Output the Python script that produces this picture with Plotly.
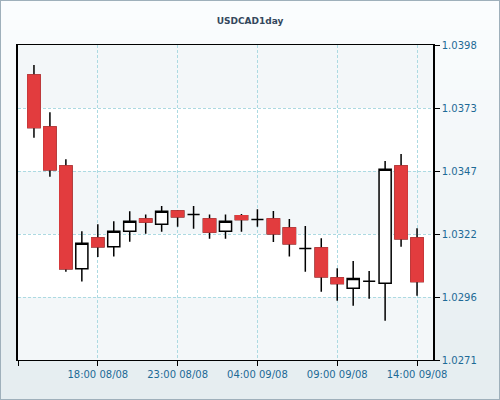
import plotly.graph_objects as go

# hourly USD/CAD candles
times = [
    "2013-08-08 14:00", "2013-08-08 15:00", "2013-08-08 16:00", "2013-08-08 17:00",
    "2013-08-08 18:00", "2013-08-08 19:00", "2013-08-08 20:00", "2013-08-08 21:00",
    "2013-08-08 22:00", "2013-08-08 23:00", "2013-08-09 00:00", "2013-08-09 01:00",
    "2013-08-09 02:00", "2013-08-09 03:00", "2013-08-09 04:00", "2013-08-09 05:00",
    "2013-08-09 06:00", "2013-08-09 07:00", "2013-08-09 08:00", "2013-08-09 09:00",
    "2013-08-09 10:00", "2013-08-09 11:00", "2013-08-09 12:00", "2013-08-09 13:00",
    "2013-08-09 14:00",
]
opens = [
    1.03859, 1.03649, 1.03492, 1.03078, 1.03202, 1.03167, 1.03229, 1.03278,
    1.03257, 1.03311, 1.03297, 1.03278, 1.03229, 1.03292, 1.03276, 1.03278,
    1.03242, 1.03160, 1.03162, 1.03041, 1.02999, 1.03027, 1.03019, 1.03492,
    1.03202,
]
highs = [
    1.03899, 1.03709, 1.03519, 1.03229, 1.03257, 1.03269, 1.03310, 1.03297,
    1.03331, 1.03315, 1.03331, 1.03297, 1.03297, 1.03299, 1.03318, 1.03311,
    1.03278, 1.03250, 1.03201, 1.03080, 1.03109, 1.03069, 1.03512, 1.03541,
    1.03241,
]
lows = [
    1.03606, 1.03449, 1.03066, 1.03026, 1.03125, 1.03127, 1.03187, 1.03219,
    1.03227, 1.03247, 1.03239, 1.03199, 1.03199, 1.03227, 1.03247, 1.03186,
    1.03127, 1.03066, 1.02985, 1.02949, 1.02929, 1.02957, 1.02868, 1.03167,
    1.02969,
]
closes = [
    1.03647, 1.03477, 1.03078, 1.03181, 1.03167, 1.03229, 1.03269, 1.03266,
    1.03310, 1.03288, 1.03297, 1.03226, 1.03269, 1.03276, 1.03276, 1.03219,
    1.03179, 1.03160, 1.03046, 1.03018, 1.03039, 1.03027, 1.03479, 1.03199,
    1.03026,
]

price_ticks = [1.0271, 1.02964, 1.03218, 1.03472, 1.03726, 1.0398]
price_labels = ["1.0271", "1.0296", "1.0322", "1.0347", "1.0373", "1.0398"]
time_ticks = [
    "2013-08-08 13:00", "2013-08-08 18:00", "2013-08-08 23:00",
    "2013-08-09 04:00", "2013-08-09 09:00", "2013-08-09 14:00",
]
time_labels = ["", "18:00 08/08", "23:00 08/08", "04:00 09/08", "09:00 09/08", "14:00 09/08"]
time_range = ["2013-08-08 13:00", "2013-08-09 15:00"]

RED = "#e23c3e"
LW = 1.5
GRID = "#acdae2"

fig = go.Figure()

# full candles: black wicks and outlines
fig.add_trace(go.Candlestick(
    x=times, open=opens, high=highs, low=lows, close=closes,
    increasing=dict(line=dict(color="black", width=LW), fillcolor="white"),
    decreasing=dict(line=dict(color="black", width=LW), fillcolor=RED),
    whiskerwidth=0, hoverinfo="skip", showlegend=False,
))

# red bodies drawn again on top so falling candles have no black outline
down = [i for i in range(len(times)) if closes[i] < opens[i]]
fig.add_trace(go.Candlestick(
    x=[times[i] for i in down],
    open=[opens[i] for i in down], high=[opens[i] for i in down],
    low=[closes[i] for i in down], close=[closes[i] for i in down],
    increasing=dict(line=dict(color=RED, width=LW), fillcolor=RED),
    decreasing=dict(line=dict(color=RED, width=LW), fillcolor=RED),
    whiskerwidth=0, hoverinfo="skip", showlegend=False,
))

ML, MR, MT, MB = 18, 67, 45, 40
PW, PH = 500 - ML - MR, 400 - MT - MB

shapes = []
# soft vertical gradient behind everything
top_rgb, bot_rgb = (251, 253, 254), (229, 237, 240)
n = 40
y0p, y1p = -MB / PH, 1 + MT / PH
for k in range(n):
    t = k / (n - 1)
    c = tuple(round(bot_rgb[j] + (top_rgb[j] - bot_rgb[j]) * t) for j in range(3))
    shapes.append(dict(
        type="rect", xref="paper", yref="paper", layer="below",
        x0=-ML / PW, x1=1 + MR / PW,
        y0=y0p + (y1p - y0p) * k / n, y1=y0p + (y1p - y0p) * (k + 1) / n + 0.002,
        fillcolor="rgb(%d,%d,%d)" % c, line=dict(width=0),
    ))
# white plot area, then alternating horizontal bands
shapes.append(dict(
    type="rect", xref="paper", yref="paper", layer="below",
    x0=0, x1=1, y0=0, y1=1, fillcolor="white", line=dict(width=0),
))
lo, hi = price_ticks[0], price_ticks[-1]
for k in range(0, len(price_ticks) - 1, 2):
    shapes.append(dict(
        type="rect", xref="paper", yref="paper", layer="below",
        x0=0, x1=1,
        y0=(price_ticks[k] - lo) / (hi - lo), y1=(price_ticks[k + 1] - lo) / (hi - lo),
        fillcolor="#f3f7f9", line=dict(width=0),
    ))
# outer frame
shapes.append(dict(
    type="rect", xref="paper", yref="paper", layer="above",
    x0=-ML / PW, x1=1 + MR / PW, y0=-MB / PH, y1=1 + MT / PH,
    line=dict(color="#9fb0bb", width=2),
))

fig.update_layout(
    width=500, height=400,
    margin=dict(l=ML, r=MR, t=MT, b=MB),
    paper_bgcolor="#f2f6f8", plot_bgcolor="white",
    font=dict(family="DejaVu Sans", size=10, color="#1d6a96"),
    title=dict(text="<b>USDCAD1day</b>", x=0.5, xref="container", xanchor="center",
               y=1 - 20.5 / 400, yref="container", yanchor="middle",
               font=dict(family="DejaVu Sans", size=9, color="#34475c")),
    boxgap=0.24, boxgroupgap=0,
    shapes=shapes,
    showlegend=False,
)
fig.update_xaxes(
    type="date", range=time_range, rangeslider=dict(visible=False),
    tickmode="array", tickvals=time_ticks, ticktext=time_labels,
    ticks="outside", ticklen=5, tickcolor="black", tickwidth=1,
    showline=True, linecolor="black", linewidth=1, mirror=True,
    showgrid=True, gridcolor=GRID, griddash="3px,2px", gridwidth=1,
    zeroline=False,
)
fig.update_yaxes(
    range=[lo, hi], side="right",
    tickmode="array", tickvals=price_ticks, ticktext=price_labels,
    ticks="outside", ticklen=5, tickcolor="black", tickwidth=1,
    showline=True, linecolor="black", linewidth=1.5, mirror=True,
    showgrid=True, gridcolor=GRID, griddash="3px,2px", gridwidth=1,
    zeroline=False,
)

fig.write_html(
    "out.html",
    config={"displayModeBar": False},
    post_script="document.body.style.margin='0';",
)
